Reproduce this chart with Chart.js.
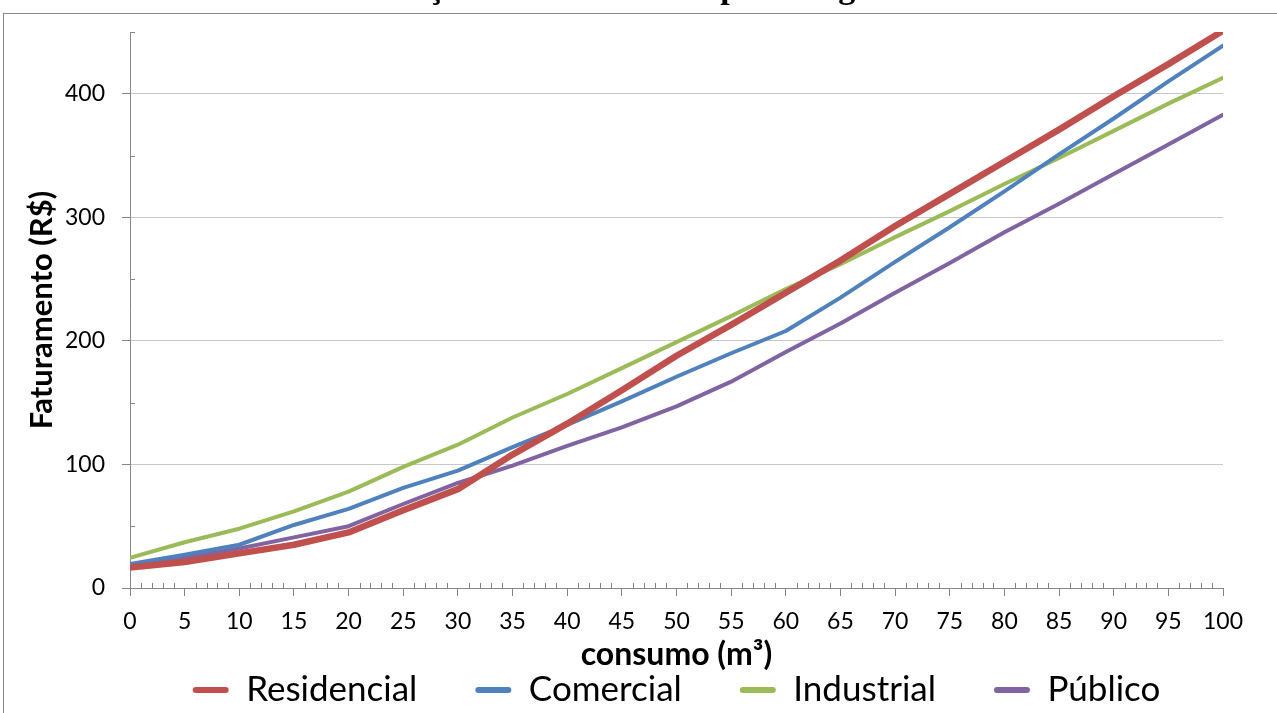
<!DOCTYPE html>
<html>
<head>
<meta charset="utf-8">
<script src="https://cdn.jsdelivr.net/npm/chart.js@4.4.0/dist/chart.umd.min.js"></script>
<style>
  html, body { margin: 0; padding: 0; background: #fff; overflow: hidden; }
  canvas { display: block; }
</style>
</head>
<body>
<canvas id="c" width="1277" height="713"></canvas>
<script>
// consumo (m³) sampled every 5 m³
const consumo     = [0, 5, 10, 15, 20, 25, 30, 35, 40, 45, 50, 55, 60, 65, 70, 75, 80, 85, 90, 95, 100];
// faturamento (R$) per category
const residencial = [16.5, 21, 28, 35, 45, 63, 80, 108, 133, 160, 188, 213, 239, 265, 293, 319, 345, 371, 398, 424, 451];
const comercial   = [19.5, 27, 35, 51, 64, 81, 95, 114, 132, 151, 171, 190, 208, 235, 264, 292, 321, 351, 380, 410, 439];
const industrial  = [24.5, 37, 48, 62, 78, 98, 116, 138, 157, 178, 199, 220, 242, 262, 284, 305, 327, 348, 370, 392, 413];
const publico     = [18, 24.5, 32, 41, 50, 68, 85, 99, 115, 130, 147, 167, 191, 214, 239, 263, 288, 311, 335, 359, 383];

const categorias = ['Residencial', 'Comercial', 'Industrial', 'Público'];
const cores = ['#C0504D', '#4F81BD', '#9BBB59', '#8064A2'];
const espessuras = [6.5, 4, 4, 4];
const series = [residencial, comercial, industrial, publico];

const titulo = 'Simulação do faturamento por categoria';
const tituloY = 'Faturamento (R$)';
const tituloX = 'consumo (m³)';

const AXIS = '#868686';
const GRID = '#c8c8c8';
const FONT = 'Lato';

// white page, outer frame and the chart title (runs off the top edge)
const framePlugin = {
  id: 'frame',
  beforeDraw(chart) {
    const ctx = chart.ctx;
    ctx.save();
    ctx.fillStyle = '#fff';
    ctx.fillRect(0, 0, chart.width, chart.height);
    ctx.strokeStyle = AXIS;
    ctx.lineWidth = 1;
    ctx.strokeRect(3.5, 13.5, 2000, 2000);
    ctx.restore();
  },
  afterDraw(chart) {
    const ctx = chart.ctx;
    ctx.save();
    ctx.fillStyle = '#000';
    ctx.font = 'bold 34px "Liberation Serif"';
    ctx.textAlign = 'center';
    ctx.textBaseline = 'alphabetic';
    ctx.fillText(titulo, 620, -2);
    ctx.restore();
  }
};

// minor tick marks drawn inside the plot area
const minorTicks = {
  id: 'minorTicks',
  beforeDatasetsDraw(chart) {
    const {ctx, scales: {x, y}, chartArea: a} = chart;
    ctx.save();
    ctx.strokeStyle = AXIS;
    ctx.lineWidth = 1;
    ctx.beginPath();
    for (let v = 0; v <= 100; v++) {
      if (v % 5 === 0) continue;
      const px = Math.round(x.getPixelForValue(v)) + 0.5;
      ctx.moveTo(px, a.bottom);
      ctx.lineTo(px, a.bottom - 5);
    }
    for (let v = 50; v <= 450; v += 100) {
      const py = Math.round(y.getPixelForValue(v)) + 0.5;
      ctx.moveTo(a.left, py);
      ctx.lineTo(a.left + 5, py);
    }
    ctx.stroke();
    ctx.restore();
  }
};

const datasets = categorias.map((nome, i) => ({
  label: nome,
  data: consumo.map((c, k) => ({x: c, y: series[i][k]})),
  borderColor: cores[i],
  backgroundColor: cores[i],
  borderWidth: espessuras[i],
  pointRadius: 0,
  tension: 0,
  borderJoinStyle: 'round',
  borderCapStyle: 'round'
}));

new Chart(document.getElementById('c'), {
  type: 'line',
  data: { datasets },
  plugins: [framePlugin, minorTicks],
  options: {
    responsive: false,
    devicePixelRatio: 1,
    animation: false,
    layout: { padding: { top: 32, right: 54, left: 0, bottom: -4.5 } },
    plugins: {
      tooltip: { enabled: false },
      legend: {
        position: 'bottom',
        fullSize: false,
        labels: {
          font: { family: FONT, size: 35 },
          color: '#000',
          boxWidth: 36,
          boxHeight: 6,
          padding: 58,
          generateLabels(chart) {
            return Chart.defaults.plugins.legend.labels.generateLabels(chart).map(it => ({
              ...it, lineWidth: 0, fillStyle: it.strokeStyle, borderRadius: 3
            }));
          }
        }
      }
    },
    scales: {
      x: {
        type: 'linear',
        min: 0, max: 100,
        afterFit(s) { s.height = 26.5; },
        border: { color: AXIS, width: 1 },
        grid: {
          drawOnChartArea: false,
          tickLength: 8,
          tickColor: c => (c.tick && c.tick.value % 5 === 0) ? AXIS : 'rgba(0,0,0,0)'
        },
        ticks: {
          stepSize: 1,
          maxTicksLimit: 101,
          autoSkip: false,
          maxRotation: 0,
          mirror: true,
          padding: -47,
          color: '#000',
          font: { family: FONT, size: 23 },
          callback: v => (v % 5 === 0 ? String(v) : '')
        },
        title: {
          display: true,
          text: tituloX,
          color: '#000',
          font: { family: FONT, size: 32, weight: 'bold' },
          padding: { top: 0, bottom: -59.7 }
        }
      },
      y: {
        min: 0, max: 450,
        afterFit(s) { s.width = 130; },
        border: { color: AXIS, width: 1 },
        grid: {
          tickLength: 8,
          color: c => (c.tick && c.tick.value > 0 && c.tick.value % 100 === 0) ? GRID : 'rgba(0,0,0,0)',
          tickColor: c => (c.tick && c.tick.value % 100 === 0) ? AXIS : 'rgba(0,0,0,0)'
        },
        ticks: {
          stepSize: 50,
          autoSkip: false,
          padding: 17,
          color: '#000',
          font: { family: FONT, size: 23 },
          callback: v => (v % 100 === 0 ? String(v) : '')
        },
        title: {
          display: true,
          text: tituloY,
          color: '#000',
          font: { family: FONT, size: 31, weight: 'bold' },
          padding: { top: 23.5, bottom: 0 }
        }
      }
    }
  }
});
</script>
</body>
</html>
